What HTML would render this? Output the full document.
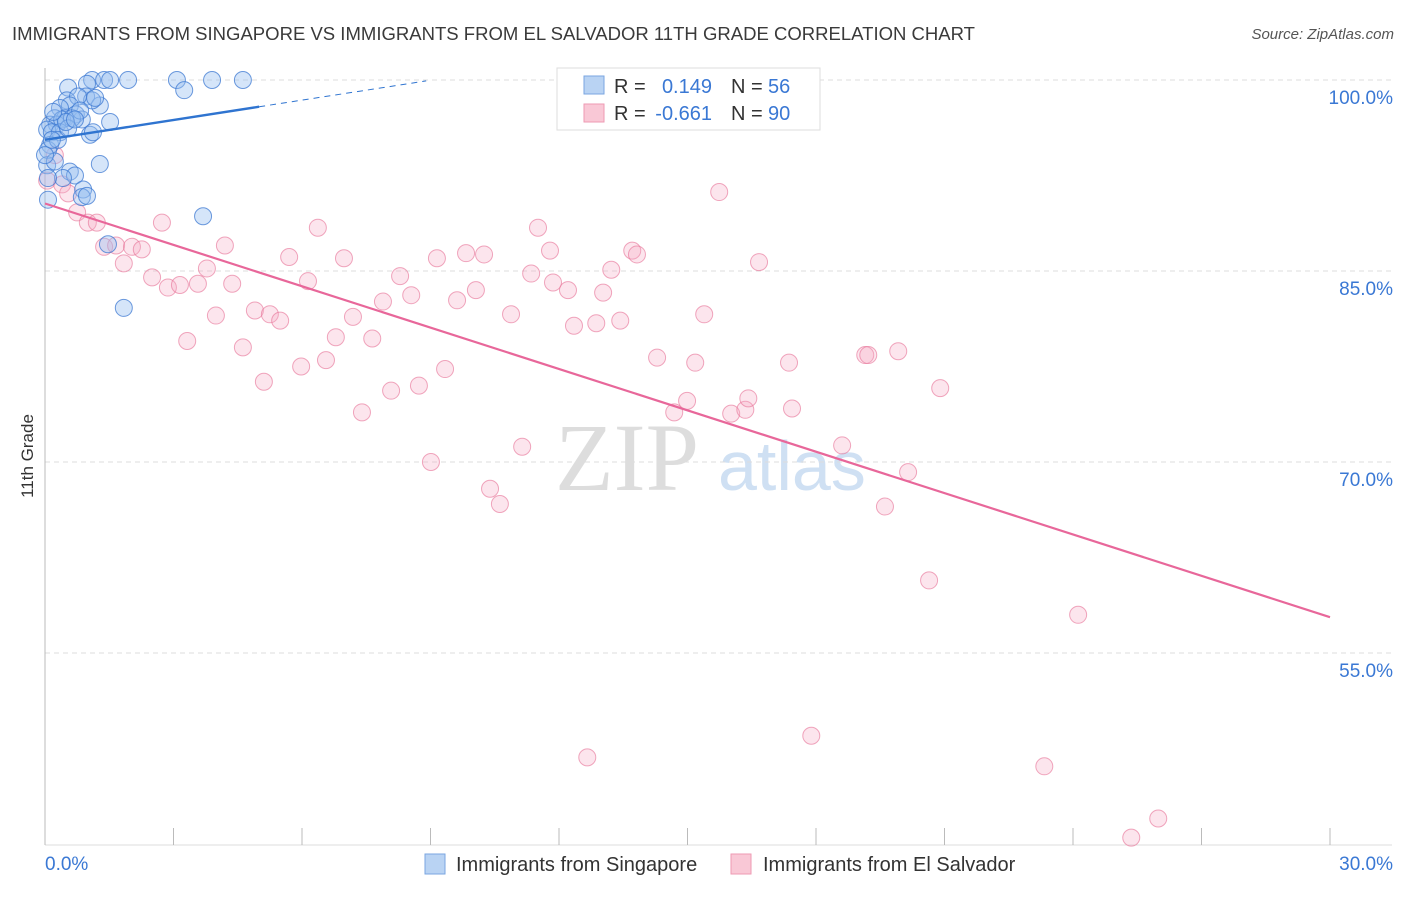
<!DOCTYPE html>
<html><head><meta charset="utf-8"><style>
body{margin:0;background:#fff;font-family:"Liberation Sans",sans-serif;}
</style></head><body>
<svg id="chart" width="1406" height="892" xmlns="http://www.w3.org/2000/svg" font-family="Liberation Sans, sans-serif">
<text x="12" y="40" font-size="18.5" fill="#3a3a3a" textLength="963" lengthAdjust="spacingAndGlyphs">IMMIGRANTS FROM SINGAPORE VS IMMIGRANTS FROM EL SALVADOR 11TH GRADE CORRELATION CHART</text>
<text x="1394" y="39" font-size="15" fill="#555" text-anchor="end" font-style="italic">Source: ZipAtlas.com</text>
<text x="555" y="490" font-size="96" fill="#ddd" font-family="Liberation Serif, serif">ZIP</text>
<text x="718" y="490" font-size="70" fill="#cfe0f3">atlas</text>
<g id="grid"></g>
<g id="axes"></g>
<g id="marks"></g>
<text transform="translate(33,456) rotate(-90)" font-size="17" fill="#333" text-anchor="middle">11th Grade</text>
<g>
<rect x="557" y="68" width="263" height="62" fill="#fff" stroke="#ddd"/>
<rect x="584" y="76" width="20" height="18" fill="#b9d3f3" stroke="#7aa6e0"/>
<rect x="584" y="104" width="20" height="18" fill="#f9c8d6" stroke="#ee9ab3"/>
<text x="614" y="93" font-size="20" fill="#333">R =</text>
<text x="712" y="93" font-size="20" fill="#3a78d4" text-anchor="end">0.149</text>
<text x="731" y="93" font-size="20" fill="#333">N =</text>
<text x="768" y="93" font-size="20" fill="#3a78d4">56</text>
<text x="614" y="120" font-size="20" fill="#333">R =</text>
<text x="712" y="120" font-size="20" fill="#3a78d4" text-anchor="end">-0.661</text>
<text x="731" y="120" font-size="20" fill="#333">N =</text>
<text x="768" y="120" font-size="20" fill="#3a78d4">90</text>
</g>
<g>
<rect x="425" y="854" width="20" height="20" fill="#b9d3f3" stroke="#7aa6e0"/>
<text x="456" y="871" font-size="20" fill="#333">Immigrants from Singapore</text>
<rect x="731" y="854" width="20" height="20" fill="#f9c8d6" stroke="#ee9ab3"/>
<text x="763" y="871" font-size="20" fill="#333">Immigrants from El Salvador</text>
</g>
</svg>
<script>
const xTicks=[0,3,6,9,12,15,18,21,24,27,30];
const yTicks=[100,85,70,55];
const blueX=[1.10,1.38,1.52,1.94,3.08,3.90,4.62,3.25,0.54,0.98,0.51,0.96,1.28,1.10,0.77,0.58,0.35,0.23,0.47,0.72,0.86,1.52,0.12,0.28,0.40,0.05,0.16,0.35,1.05,1.12,0.12,0.07,1.28,0.05,0.23,0.58,0.70,0.42,0.07,0.89,0.86,0.98,0.07,3.69,1.47,1.84,0.63,0.30,0.54,0.49,0.82,1.17,0.16,0.70,0.0,0.19];
const blueY=[100,100,100,100,100,100,100,99.2,99.4,99.7,98.4,98.7,98.0,98.4,98.7,98.0,97.8,97.0,97.0,97.3,96.9,96.7,96.5,96.5,96.9,96.1,95.9,95.9,95.7,95.9,94.9,94.5,93.4,93.3,93.6,92.8,92.5,92.3,92.3,91.4,90.8,90.9,90.6,89.3,87.1,82.1,97.0,95.3,96.2,96.7,97.6,98.6,95.3,96.9,94.1,97.5];
const pinkX=[0.05,0.23,0.40,0.54,0.75,1.00,1.21,1.38,1.66,1.84,2.03,2.26,2.50,2.73,2.87,3.15,3.32,3.57,3.78,3.99,4.20,4.37,4.62,4.90,5.11,5.25,5.49,5.70,5.98,6.14,6.37,6.56,6.79,6.98,7.19,7.40,7.64,7.89,8.08,8.29,8.55,8.73,9.01,9.15,9.34,9.62,9.83,10.06,10.25,10.39,10.62,10.88,11.14,11.35,11.51,11.79,11.86,12.21,12.35,12.66,12.87,13.03,13.22,13.43,13.71,13.82,14.29,14.69,14.99,15.18,15.39,15.74,16.02,16.35,16.42,16.67,17.37,17.44,17.89,18.61,19.15,19.22,19.92,20.15,19.61,20.64,20.90,23.33,24.12,25.36,25.99];
const pinkY=[92.1,94.1,91.8,91.1,89.6,88.8,88.8,86.9,87.0,85.6,86.9,86.7,84.5,88.8,83.7,83.9,79.5,84.0,85.2,81.5,87.0,84.0,79.0,81.9,76.3,81.6,81.1,86.1,77.5,84.2,88.4,78.0,79.8,86.0,81.4,73.9,79.7,82.6,75.6,84.6,83.1,76.0,70.0,86.0,77.3,82.7,86.4,83.5,86.3,67.9,66.7,81.6,71.2,84.8,88.4,86.6,84.1,83.5,80.7,46.8,80.9,83.3,85.1,81.1,86.6,86.3,78.2,73.9,74.8,77.8,81.6,91.2,73.8,74.1,75.0,85.7,77.8,74.2,48.5,71.3,78.4,78.4,78.7,69.2,66.5,60.7,75.8,46.1,58.0,40.5,42.0];
const blueTrend=[95.3,0.52];   // intercept, slope
const pinkTrend=[90.3,-1.083];
const blueSolidEnd=5.0, blueDashEnd=8.9;

const NS='http://www.w3.org/2000/svg';
const xs=v=>45+v/30*1285;
const ys=v=>80+(100-v)*12.733;
function mk(tag,attrs,parent){const e=document.createElementNS(NS,tag);for(const k in attrs)e.setAttribute(k,attrs[k]);document.getElementById(parent).appendChild(e);return e;}
yTicks.forEach(t=>{
  const l=mk('line',{x1:45,x2:1392,y1:ys(t),y2:ys(t),stroke:'#ddd','stroke-dasharray':'5,4'},'grid');
  
  
  const tx=mk('text',{x:1393,y:ys(t)+24,'font-size':19,fill:'#3a78d4','text-anchor':'end'},'grid');
  tx.textContent=t.toFixed(1)+'%';
  
  
});
const ax=mk('line',{x1:45,x2:45,y1:68,y2:845,stroke:'#bbb'},'axes');


const bx=mk('line',{x1:45,x2:1392,y1:845,y2:845,stroke:'#ddd'},'axes');


xTicks.forEach(t=>{
  const l=mk('line',{x1:xs(t),x2:xs(t),y1:828,y2:845,stroke:'#bbb'},'axes');
  
  
});
const xl0=mk('text',{x:45,y:870,'font-size':19,fill:'#3a78d4'},'axes');xl0.textContent=xTicks[0].toFixed(1)+'%';


const xl1=mk('text',{x:1393,y:870,'font-size':19,fill:'#3a78d4','text-anchor':'end'},'axes');xl1.textContent=xTicks[xTicks.length-1].toFixed(1)+'%';


pinkX.forEach((x,i)=>{
  const c=mk('circle',{cx:xs(x),cy:ys(pinkY[i]),r:8.5,fill:'rgba(246,170,195,0.3)',stroke:'rgba(232,120,155,0.65)','stroke-width':1},'marks');
  
  
});
blueX.forEach((x,i)=>{
  const c=mk('circle',{cx:xs(x),cy:ys(blueY[i]),r:8.5,fill:'rgba(150,190,240,0.4)',stroke:'rgba(60,120,210,0.75)','stroke-width':1},'marks');
  
  
});
const pl=mk('line',{x1:xs(0),y1:ys(pinkTrend[0]),x2:xs(30),y2:ys(pinkTrend[0]+pinkTrend[1]*30),stroke:'#e8679a','stroke-width':2.2},'marks');


const bl=mk('line',{x1:xs(0),y1:ys(blueTrend[0]),x2:xs(blueSolidEnd),y2:ys(blueTrend[0]+blueTrend[1]*blueSolidEnd),stroke:'#2f74d0','stroke-width':2.4},'marks');


const bd=mk('line',{x1:xs(blueSolidEnd),y1:ys(blueTrend[0]+blueTrend[1]*blueSolidEnd),x2:xs(blueDashEnd),y2:ys(blueTrend[0]+blueTrend[1]*blueDashEnd),stroke:'#2f74d0','stroke-width':1,'stroke-dasharray':'6,5'},'marks');


</script>
</body></html>
